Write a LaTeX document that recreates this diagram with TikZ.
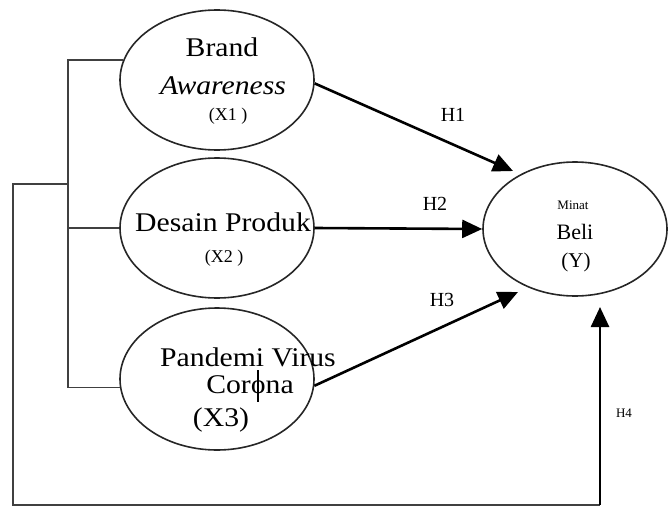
\documentclass[tikz,border=0pt]{standalone}
\usepackage{fontspec}
\setmainfont{Liberation Serif}
\usetikzlibrary{shapes.geometric,arrows.meta}
\newcommand{\hs}[1]{\scalebox{1.1}[1.0]{#1}}
\tikzset{
  var/.style={ellipse,draw=black!85,line width=1.6pt,minimum width=194pt,minimum height=140pt,inner sep=0pt},
  txt/.style={inner sep=0pt,font=\fontsize{27}{30}\selectfont},
  small/.style={inner sep=0pt,font=\fontsize{18}{20}\selectfont},
  hlab/.style={inner sep=0pt,font=\fontsize{20}{22}\selectfont},
  link/.style={draw=black!75,line width=1.6pt},
  hyp/.style={draw=black,line width=2.6pt,-{Triangle[length=20pt,width=18pt]}}
}
\begin{document}
\begin{tikzpicture}[x=1pt,y=-1pt]
\useasboundingbox (0,0) rectangle (668,508);
% ellipses
\node[var] (x1) at (217,80) {};
\node[var] (x2) at (217,228) {};
\node[var,minimum height=142pt] (x3) at (217,379) {};
\node[var,minimum width=184pt,minimum height=134pt] (y) at (575,229) {};
% texts X1
\node[txt] (t1a) at (222,47) {\hs{Brand}};
\node[txt] (t1b) at (223,86) {\hs{\itshape Awareness}};
\node[small] (t1c) at (228,116) {(X1 )};
% texts X2
\node[txt] (t2a) at (223,222) {\hs{Desain Produk}};
\node[small] (t2b) at (224,258) {(X2 )};
% texts X3
\node[txt] (t3a) at (248,357) {\hs{Pandemi Virus}};
\node[txt] (t3b) at (250,386) {\hs{Cor\rlap{\kern0.21em\rule[-0.3em]{0.07em}{1.15em}}ona}};
\node[txt] (t3c) at (221,420) {\hs{(X3)}};
% texts Y
\node[inner sep=0pt,font=\fontsize{13}{15}\selectfont] (ta) at (573,205) {Minat};
\node[inner sep=0pt,font=\fontsize{22}{24}\selectfont] (tb) at (575,232) {Beli};
\node[inner sep=0pt,font=\fontsize{21}{23}\selectfont] (tc) at (576,262) {(Y)};
% hypothesis arrows
\coordinate (h1t) at (513,171);
\coordinate (h3t) at (518,292);
\coordinate (h4t) at (600,307);
\draw[hyp] (x1.-2) -- (h1t);
\draw[hyp] (x2.east) -- (y.west);
\draw[hyp] (x3.-4) -- (h3t);
\node[hlab] (l1) at (453,115) {H1};
\node[hlab] (l2) at (435,204) {H2};
\node[hlab] (l3) at (442,300) {H3};
\node[inner sep=0pt,font=\fontsize{13}{15}\selectfont] (l4) at (624,413) {H4};
% bracket
\coordinate (bt) at (68,61);
\coordinate (bj) at (68,184);
\coordinate (c1) at (13,184);
\coordinate (c2) at (13,505);
\coordinate (c3) at (600,505);
\draw[link] (x1.168) -- (x1.168 -| bt) -- (x3.185 -| bt) -- (x3.185);
\draw[link] (x2.west) -- (x2.west -| bt);
\draw[link] (bj) -- (c1) -- (c2) -- (c3);
\draw[hyp] (c3) -- (h4t);
\end{tikzpicture}
\end{document}
